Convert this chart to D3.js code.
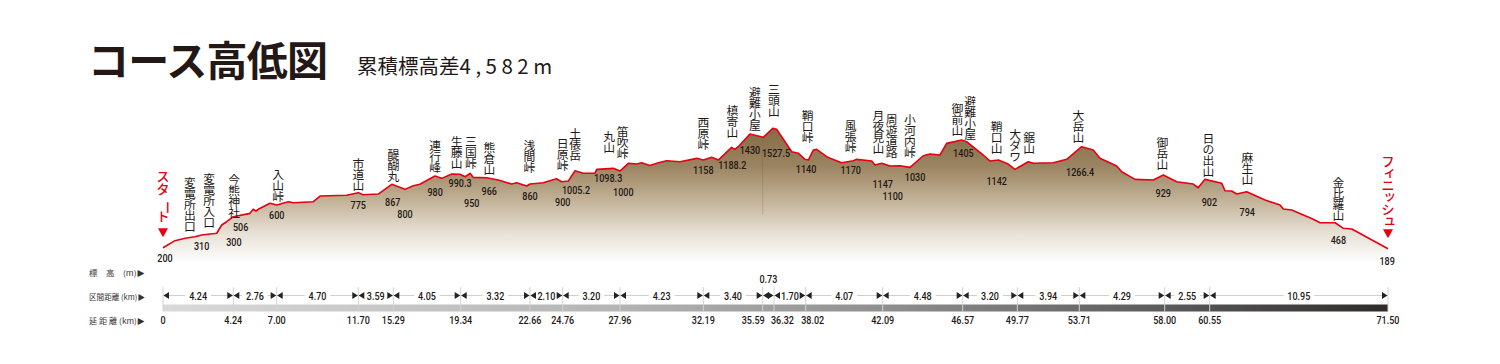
<!DOCTYPE html>
<html><head><meta charset="utf-8">
<script src="https://cdn.jsdelivr.net/npm/d3@7"></script>
<style>
html,body{margin:0;padding:0;background:#fff;}
svg{display:block;}
</style></head>
<body>
<svg id="chart" width="1500" height="364"></svg>
<script>
// ---------------- DATA ----------------
const titleText = "コース高低図";
const subtitleLabel = "累積標高差";
const subtitleValue = "4,582m";
const rowLabels = ["標　高　(m)▶", "区間距離 (km)▶", "延 距 離 (km)▶"];

const checkpointKm = [0, 4.24, 7.00, 11.70, 15.29, 19.34, 22.66, 24.76, 27.96, 32.19, 35.59, 36.32, 38.02, 42.09, 46.57, 49.77, 53.71, 58.00, 60.55, 71.50];
const checkpointLabels = ["0", "4.24", "7.00", "11.70", "15.29", "19.34", "22.66", "24.76", "27.96", "32.19", "35.59", "36.32", "38.02", "42.09", "46.57", "49.77", "53.71", "58.00", "60.55", "71.50"];
const segmentLabels = ["4.24", "2.76", "4.70", "3.59", "4.05", "3.32", "2.10", "3.20", "4.23", "3.40", "0.73", "1.70", "4.07", "4.48", "3.20", "3.94", "4.29", "2.55", "10.95"];

const profileKm = [0, 0.72, 1.33, 1.93, 2.33, 3.24, 3.54, 3.84, 4.24, 5.30,
  5.51, 5.68, 5.83, 6.57, 7.00, 7.67, 7.96, 9.11, 9.50, 11.03,
  11.70, 12.21, 13.75, 15.13, 15.99, 16.49, 16.89, 17.79, 18.20, 18.80,
  19.30, 19.55, 19.79, 19.94, 20.58, 21.14, 21.78, 22.02, 22.50, 22.66,
  23.51, 24.36, 24.69, 25.07, 25.45, 25.91, 26.56, 26.66, 27.59, 27.96,
  28.38, 28.81, 29.06, 29.48, 29.91, 30.33, 31.01, 31.86, 32.19, 32.67,
  33.05, 33.81, 34.00, 34.19, 34.86, 35.63, 36.24, 36.46, 37.27, 37.63,
  37.98, 38.16, 38.42, 38.60, 39.13, 39.31, 39.92, 40.54, 40.72, 41.51,
  41.68, 42.04, 42.50, 43.06, 43.62, 44.36, 44.74, 45.30, 45.67, 46.51,
  46.80, 47.78, 48.17, 48.66, 49.24, 49.63, 50.47, 50.79, 52.06, 52.91,
  53.83, 54.41, 54.75, 55.59, 55.84, 56.51, 57.43, 57.93, 58.68, 59.62,
  59.90, 60.28, 61.29, 61.49, 61.90, 62.21, 62.82, 63.95, 64.87, 65.07,
  65.59, 66.91, 67.33, 68.25, 68.76, 69.28, 71.50];
const profileElev = [200, 278, 304, 322, 341, 360, 452, 488, 544, 581,
  626, 607, 626, 692, 673, 710, 699, 710, 773, 781,
  810, 788, 795, 903, 847, 887, 903, 995, 969, 1017,
  1014, 987, 1025, 980, 976, 951, 906, 921, 884, 906,
  921, 965, 932, 939, 1054, 1025, 1025, 1069, 1080, 1050,
  1136, 1128, 1142, 1111, 1142, 1165, 1153, 1191, 1172, 1202,
  1172, 1313, 1291, 1320, 1460, 1424, 1524, 1513, 1264, 1247,
  1180, 1172, 1283, 1291, 1209, 1191, 1142, 1164, 1180, 1161,
  1117, 1136, 1106, 1109, 1091, 1220, 1239, 1228, 1357, 1394,
  1375, 1228, 1161, 1172, 1128, 1069, 1153, 1136, 1142, 1180,
  1320, 1283, 1191, 1106, 1043, 958, 950, 1006, 932, 906,
  865, 958, 914, 832, 829, 795, 821, 729, 673, 629,
  618, 515, 477, 477, 415, 407, 189];

const peakNames = ["変電所出口", "変電所入口", "今熊神社", "入山峠", "市道山", "醍醐丸", "連行峰", "生藤山", "三国峠", "熊倉山",
  "浅間峠", "日原峠", "土俵岳", "丸山", "笛吹峠", "西原峠", "槙寄山", "避難小屋", "三頭山", "鞘口峠",
  "風張峠", "月夜見山", "周遊道路", "小河内峠", "御前山", "避難小屋", "鞘口山", "大ダワ", "鋸山", "大岳山",
  "御岳山", "日の出山", "麻生山", "金比羅山"];
const peakKm = [1.63, 2.79, 4.30, 7.09, 11.70, 15.29, 17.80, 19.10, 19.83, 20.71,
  22.63, 24.76, 25.45, 27.36, 28.10, 32.19, 33.85, 35.15, 36.32, 38.13,
  40.40, 41.86, 42.59, 43.62, 46.27, 47.00, 48.56, 49.64, 50.53, 53.65,
  57.88, 60.47, 62.86, 68.45];

const elevText = ["200", "310", "300", "506", "600", "775", "867", "800", "980", "990.3",
  "950", "966", "860", "900", "1005.2", "1098.3", "1000", "1158", "1188.2", "1430",
  "1527.5", "1140", "1170", "1147", "1100", "1030", "1405", "1142", "1266.4", "929",
  "902", "794", "468", "189"];
const elevKm = [0.12, 2.33, 4.28, 4.71, 7.00, 11.70, 15.23, 15.99, 17.80, 19.30,
  19.87, 20.71, 22.66, 24.76, 25.50, 27.30, 28.13, 32.19, 33.85, 34.86,
  36.43, 38.04, 40.40, 42.09, 42.65, 43.90, 46.61, 48.56, 53.75, 57.93,
  60.53, 62.86, 68.45, 71.45];

const startLabel = "スタート";
const finishLabel = "フィニッシュ";
const hutKm = 35.59;

// ---------------- LAYOUT ----------------
const X_RANGE = [163, 233.3, 276.7, 358.3, 393.3, 460.7, 530, 562.7, 620, 703.3, 762.7, 774, 805.7, 882.7, 962.7, 1017.3, 1079.3, 1164.7, 1209.7, 1388];
const nameGap = [7, 8, 0, 4.5, 2.7, 4.5, 4.3, 7, 7, 4.7,
  13, 12, 10.7, 17, 11, 12, 11, 6, 13.5, 18,
  10, 12, 9, 11, 6, 6, 7.5, 9, 10, 8,
  7, 5, 8, 5];
const numOffset = [12, 11.7, 26, 11.7, 10, 12.3, 17, 25, 15.7, 9,
  28, 13, 12, 21, 19, 10, 24.7, 10, 17.5, 16,
  24, 9.5, 9, 20.5, 30, 14, 12.4, 20.5, 24.7, 18.7,
  21.7, 20, 15, 13.4];
const cumLabelShift = {10: -9.5, 11: 8.5, 12: 7};

const RED = "#e50012";
const INK = "#231815";
const JP = "'Noto Sans CJK JP','Noto Sans',sans-serif";
const NUM = "Roboto, 'DejaVu Sans', sans-serif";
const SMALL_KANA = "ァィゥェォッャュョヮぁぃぅぇぉっゃゅょ";

const svg = d3.select("#chart");
const x = d3.scaleLinear().domain(checkpointKm).range(X_RANGE);
const y = d3.scaleLinear().domain([200, 1527.5]).range([247.7, 128]);

const profile = profileKm.map((k, i) => ({km: k, elev: profileElev[i]}));
const interp = d3.scaleLinear().domain(profileKm).range(profileElev);
const profileY = km => y(interp(km));

// defs
const defs = svg.append("defs");
const fillGrad = defs.append("linearGradient").attr("id", "fillGrad")
  .attr("gradientUnits", "userSpaceOnUse").attr("x1", 0).attr("x2", 0).attr("y1", 125).attr("y2", 262);
[[0, "#836944"], [0.3, "#9b8461"], [0.55, "#c2b297"], [0.78, "#e6dfd3"], [1, "#ffffff"]]
  .forEach(([o, c]) => fillGrad.append("stop").attr("offset", o).attr("stop-color", c));
const barGrad = defs.append("linearGradient").attr("id", "barGrad").attr("x1", 0).attr("x2", 1).attr("y1", 0).attr("y2", 0);
[[0, "#d9d9d9"], [0.37, "#b4b4b4"], [0.59, "#8f8f8f"], [0.70, "#767676"], [0.82, "#5a5a5a"], [1, "#2f2b2b"]]
  .forEach(([o, c]) => barGrad.append("stop").attr("offset", o).attr("stop-color", c));

// title
svg.append("text").attr("x", 88).attr("y", 76)
  .style("font-family", JP).style("font-weight", 700).style("font-size", "41px")
  .style("letter-spacing", "-0.8px").attr("fill", INK).text(titleText);
const sub = svg.append("text").attr("x", 357).attr("y", 74)
  .style("font-family", JP).style("font-weight", 400).style("font-size", "20.5px").attr("fill", INK);
sub.append("tspan").text(subtitleLabel);
sub.append("tspan").style("letter-spacing", "4.5px").text(subtitleValue);

// area + line
const area = d3.area().x(d => x(d.km)).y0(262).y1(d => y(d.elev));
svg.append("path").datum(profile).attr("d", area).attr("fill", "url(#fillGrad)");
svg.append("line").attr("x1", x(hutKm)).attr("x2", x(hutKm))
  .attr("y1", profileY(hutKm) + 1).attr("y2", 215)
  .attr("stroke", "#6f5a3c").attr("stroke-opacity", 0.3).attr("stroke-width", 0.8);
const line = d3.line().x(d => x(d.km)).y(d => y(d.elev));
svg.append("path").datum(profile).attr("d", line).attr("fill", "none")
  .attr("stroke", RED).attr("stroke-width", 1.6).attr("stroke-linejoin", "round");

// vertical labels: one <text> per label, one positioned <tspan> per glyph
function vtext(cx, bottom, txt, size, step, color, weight) {
  const chars = Array.from(txt);
  const t = svg.append("text")
    .attr("text-anchor", "middle").attr("dominant-baseline", "central")
    .style("font-family", JP).style("font-weight", weight).style("font-size", size + "px")
    .attr("fill", color);
  chars.forEach((c, i) => {
    const cy = bottom - (chars.length - 1 - i) * step - step / 2;
    const s = t.append("tspan").text(c);
    if (c === "ー") {
      // long-vowel mark turned to its vertical form around its own centre
      s.attr("x", cx + size / 2).attr("y", cy - size / 2).attr("rotate", 90);
    } else if (SMALL_KANA.includes(c)) {
      s.attr("x", cx + size * 0.14).attr("y", cy - size * 0.16);
    } else {
      s.attr("x", cx).attr("y", cy);
    }
  });
}

peakNames.forEach((n, i) => {
  vtext(x(peakKm[i]), profileY(peakKm[i]) - nameGap[i], n, 11.8, 11, INK, 400);
});

// start / finish
[[0, startLabel, 25.5, 13.5], [71.5, finishLabel, 23, 12]].forEach(([k, t, gap, step]) => {
  const px = x(k), py = y(interp(k));
  vtext(px, py - gap, t, 13, step, RED, 500);
  svg.append("path")
    .attr("d", d3.line()([[px - 5, py - 19.5], [px + 5, py - 19.5], [px, py - 10.5]]) + "Z")
    .attr("fill", RED);
});

// numbers helper
const num = (xx, yy, txt, size) => svg.append("text")
  .attr("transform", `translate(${xx},${yy}) scale(0.86,1)`)
  .attr("text-anchor", "middle").attr("dominant-baseline", "central")
  .style("font-family", NUM).style("font-weight", 500).style("font-size", size + "px")
  .attr("fill", INK).text(txt);

elevText.forEach((t, i) => num(x(elevKm[i]), profileY(elevKm[i]) + numOffset[i], t, 10.5));

// row labels
const rowY = [272, 296, 320];
rowLabels.forEach((t, i) => svg.append("text").attr("x", 89).attr("y", rowY[i])
  .attr("dominant-baseline", "central").attr("textLength", 56).attr("lengthAdjust", "spacingAndGlyphs")
  .style("font-family", JP).style("font-size", "7.5px").attr("fill", "#333").text(t));

// distance bar
const x0 = x(checkpointKm[0]), x1 = x(checkpointKm[checkpointKm.length - 1]);
svg.append("rect").attr("x", x0).attr("y", 304.5).attr("width", x1 - x0).attr("height", 7)
  .attr("fill", "url(#barGrad)");
svg.append("line").attr("x1", x0).attr("x2", x1).attr("y1", 295.5).attr("y2", 295.5)
  .attr("stroke", "#cfcfcf").attr("stroke-width", 1.2);
svg.selectAll(".tick").data(checkpointKm).enter().append("line")
  .attr("x1", d => x(d)).attr("x2", d => x(d)).attr("y1", 287).attr("y2", 311.5)
  .attr("stroke", "#d2d2d2").attr("stroke-width", 1);

segmentLabels.forEach((t, i) => {
  const a = x(checkpointKm[i]), b = x(checkpointKm[i + 1]);
  const mid = (a + b) / 2;
  if (b - a > 25) {
    const w = t.length * 4.9 + 6;
    svg.append("rect").attr("x", mid - w / 2).attr("y", 290).attr("width", w).attr("height", 11).attr("fill", "#fff");
    num(mid, 296, t, 10.5);
  } else {
    num(mid, 279, t, 10.5);
  }
  svg.append("path").attr("d", d3.line()([[a + 0.5, 295.5], [a + 6, 292], [a + 6, 299]]) + "Z").attr("fill", "#222");
  svg.append("path").attr("d", d3.line()([[b - 0.5, 295.5], [b - 6, 292], [b - 6, 299]]) + "Z").attr("fill", "#222");
});

checkpointLabels.forEach((t, i) => num(x(checkpointKm[i]) + (cumLabelShift[i] || 0), 320, t, 10.5));
</script>
</body></html>
